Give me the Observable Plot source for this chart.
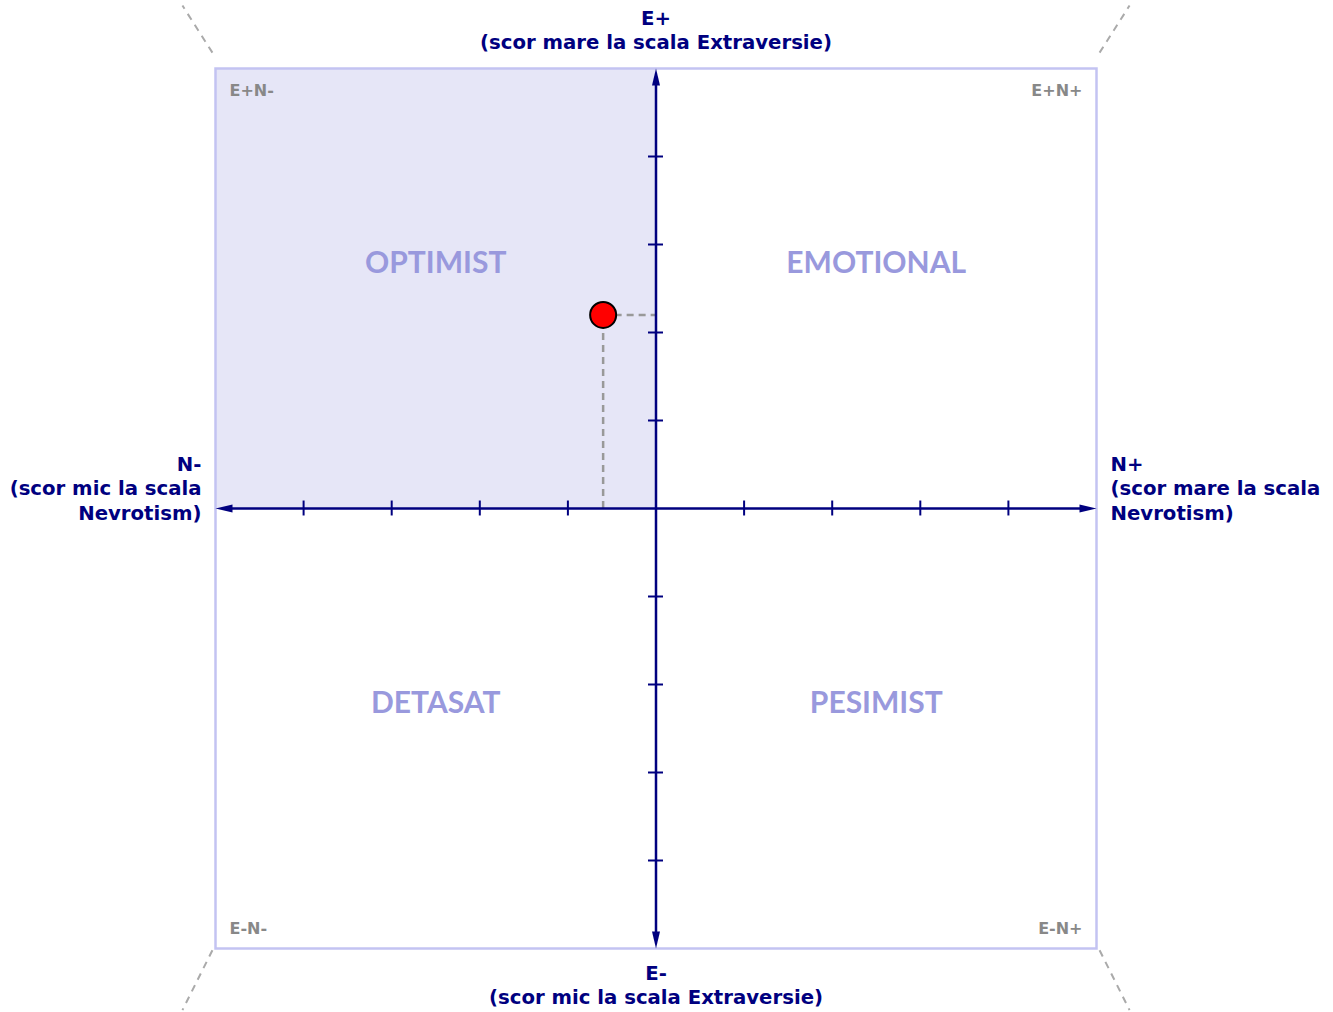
<!DOCTYPE html>
<html><head><meta charset="utf-8">
<script src="https://cdn.jsdelivr.net/npm/d3@7"></script>
<script src="https://cdn.jsdelivr.net/npm/@observablehq/plot@0.6"></script>
<style>body{margin:0;background:#fff}</style>
</head><body><div id="chart"></div>
<script>
// ---- data ----
const tickValues = [-4, -3, -2, -1, 1, 2, 3, 4];
const quadrantNames = ["OPTIMIST", "EMOTIONAL", "DETASAT", "PESIMIST"];
const quadrantN = [-2.5, 2.5, -2.5, 2.5];
const quadrantE = [2.5, 2.5, -2.5, -2.5];
const cornerNames = ["E+N-", "E+N+", "E-N-", "E-N+"];
const cornerN = [-5, 5, -5, 5];
const cornerE = [5, 5, -5, -5];
const scoreN = [-0.6];
const scoreE = [2.2];
const labelTop = "E+\n(scor mare la scala Extraversie)";
const labelBottom = "E-\n(scor mic la scala Extraversie)";
const labelLeft = "N-\n(scor mic la scala\nNevrotism)";
const labelRight = "N+\n(scor mare la scala\nNevrotism)";

// ---- derived tables ----
const quadrants = quadrantNames.map((name, i) => ({name, n: quadrantN[i], e: quadrantE[i]}));
const corners = cornerNames.map((name, i) => ({name, n: cornerN[i], e: cornerE[i]}));
const score = scoreN.map((n, i) => ({n, e: scoreE[i]}));
const ends = [
  {n: 0, e: 5, rot: 0}, {n: 0, e: -5, rot: 180},
  {n: 5, e: 0, rot: 90}, {n: -5, e: 0, rot: -90}
];
const rays = corners.map(c => ({
  n1: c.n * 1.007, e1: c.e > 0 ? c.e * 1.036 : c.e * 1.004,
  n2: c.n * 1.075, e2: c.e > 0 ? c.e * 1.143 : c.e * 1.14
}));
const hl = score.map(s => ({x1: 0, x2: Math.sign(s.n) * 5, y1: 0, y2: Math.sign(s.e) * 5}));

const navy = "#00007f";
const labelFont = "'DejaVu Sans', Verdana, sans-serif";
const quadFont = "Lato, 'Open Sans', sans-serif";
const arrowHead = {draw(ctx) { ctx.moveTo(0, 0); ctx.lineTo(-4, 17); ctx.lineTo(4, 17); ctx.closePath(); }};
const tl = 0.085;
const axisText = {fill: navy, fontSize: 19.7, fontWeight: "bold", fontFamily: labelFont, lineHeight: 1.25, lineAnchor: "middle"};
const cornerText = {x: "n", y: "e", text: "name", fill: "#888", fontSize: 16, fontWeight: "bold", fontFamily: labelFont};

const chart = Plot.plot({
  width: 1333, height: 1012,
  marginLeft: 215, marginRight: 237, marginTop: 68, marginBottom: 64,
  x: {domain: [-5, 5], axis: null},
  y: {domain: [-5, 5], axis: null},
  style: {fontFamily: labelFont, background: "white", overflow: "visible"},
  marks: [
    Plot.rect(hl, {x1: "x1", x2: "x2", y1: "y1", y2: "y2", fill: "#e6e6f7"}),
    Plot.frame({stroke: "#c3c3f2", strokeWidth: 2.5}),
    Plot.link(rays, {x1: "n1", y1: "e1", x2: "n2", y2: "e2", stroke: "#aaaaaa", strokeWidth: 2, strokeDasharray: "7,6", clip: false}),
    Plot.text(quadrants, {x: "n", y: "e", text: "name", dy: -25, fill: "#9999dd", fontSize: 30, fontWeight: "bold", fontFamily: quadFont}),
    Plot.text(corners, {...cornerText, filter: d => d.n < 0 && d.e > 0, textAnchor: "start", dx: 14, dy: 22}),
    Plot.text(corners, {...cornerText, filter: d => d.n > 0 && d.e > 0, textAnchor: "end", dx: -14, dy: 22}),
    Plot.text(corners, {...cornerText, filter: d => d.n < 0 && d.e < 0, textAnchor: "start", dx: 14, dy: -20}),
    Plot.text(corners, {...cornerText, filter: d => d.n > 0 && d.e < 0, textAnchor: "end", dx: -14, dy: -20}),
    Plot.ruleY(score, {x1: "n", x2: 0, y: "e", stroke: "#999", strokeWidth: 2.5, strokeDasharray: "7,5"}),
    Plot.ruleX(score, {x: "n", y1: 0, y2: "e", stroke: "#999", strokeWidth: 2.5, strokeDasharray: "7,5"}),
    Plot.ruleY([0], {x1: -4.9, x2: 4.9, stroke: navy, strokeWidth: 2.5}),
    Plot.ruleX([0], {y1: -4.9, y2: 4.9, stroke: navy, strokeWidth: 2.5}),
    Plot.ruleX(tickValues, {y1: -tl, y2: tl, stroke: navy, strokeWidth: 2}),
    Plot.ruleY(tickValues, {x1: -tl, x2: tl, stroke: navy, strokeWidth: 2}),
    Plot.dot(ends, {x: "n", y: "e", rotate: "rot", symbol: arrowHead, fill: navy, stroke: "none"}),
    Plot.dot(score, {x: "n", y: "e", r: 13, fill: "red", stroke: "black", strokeWidth: 2}),
    Plot.text([labelTop], {...axisText, x: 0, y: 5, text: d => d, dy: -39.5}),
    Plot.text([labelBottom], {...axisText, x: 0, y: -5, text: d => d, dy: 35.5}),
    Plot.text([labelLeft], {...axisText, x: -5, y: 0, text: d => d, dx: -14, dy: -21, textAnchor: "end"}),
    Plot.text([labelRight], {...axisText, x: 5, y: 0, text: d => d, dx: 14, dy: -21, textAnchor: "start"})
  ]
});
document.getElementById("chart").appendChild(chart);
</script>
</body></html>
